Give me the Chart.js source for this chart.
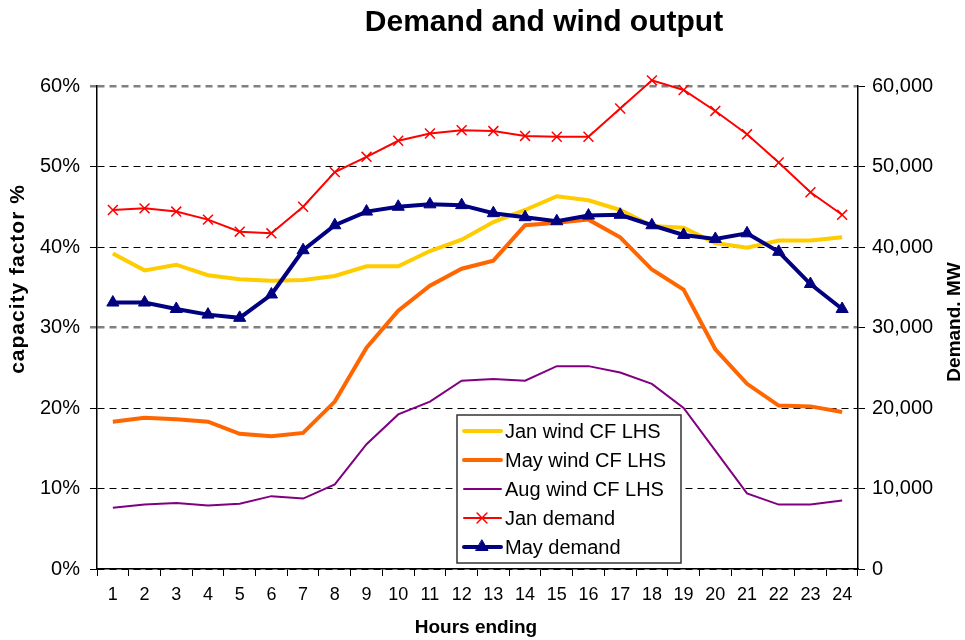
<!DOCTYPE html>
<html>
<head>
<meta charset="utf-8">
<title>Demand and wind output</title>
<script src="https://cdn.jsdelivr.net/npm/chart.js@4"></script>
<style>
  body { margin: 0; background: #fff; }
  #wrap { width: 965px; height: 640px; }
</style>
</head>
<body>
<div id="wrap"><canvas id="windChart" width="965" height="640"></canvas></div>
<script>
// hours ending 1..24
const hours = ["1","2","3","4","5","6","7","8","9","10","11","12","13","14","15","16","17","18","19","20","21","22","23","24"];

// wind capacity factor, % (left axis)
const janWind = [39.2, 37.1, 37.8, 36.5, 36.0, 35.8, 35.9, 36.4, 37.6, 37.6, 39.5, 40.9, 43.1, 44.6, 46.3, 45.8, 44.6, 42.6, 42.4, 40.5, 39.9, 40.8, 40.8, 41.2];
const mayWind = [18.3, 18.8, 18.6, 18.3, 16.8, 16.5, 16.9, 20.8, 27.5, 32.1, 35.2, 37.3, 38.3, 42.7, 43.0, 43.4, 41.2, 37.2, 34.7, 27.3, 23.0, 20.3, 20.2, 19.5];
const augWind = [7.6, 8.0, 8.2, 7.9, 8.1, 9.05, 8.75, 10.5, 15.5, 19.2, 20.8, 23.4, 23.6, 23.4, 25.2, 25.2, 24.4, 23.0, 20.0, 14.7, 9.4, 8.0, 8.0, 8.5];

// demand, MW (right axis)
const janDemand = [44600, 44800, 44400, 43400, 41900, 41700, 45000, 49300, 51200, 53200, 54100, 54500, 54400, 53800, 53700, 53700, 57200, 60700, 59500, 56900, 54000, 50500, 46800, 44000];
const mayDemand = [33100, 33100, 32300, 31600, 31200, 34100, 39600, 42700, 44400, 45000, 45300, 45200, 44200, 43700, 43200, 43900, 44000, 42700, 41500, 41000, 41700, 39400, 35400, 32300];

const seriesNames = ["Jan wind CF LHS", "May wind CF LHS", "Aug wind CF LHS", "Jan demand", "May demand"];

const FONT = "Arial, 'Liberation Sans', sans-serif";

// titles and an in-plot legend drawn straight onto the canvas
const decorations = {
  id: "decorations",
  afterDraw(chart) {
    const ctx = chart.ctx;
    ctx.save();
    ctx.fillStyle = "#000";
    ctx.textAlign = "center";
    ctx.textBaseline = "middle";

    ctx.font = "bold 30px " + FONT;
    ctx.fillText("Demand and wind output", 544, 23);

    ctx.font = "bold 19px " + FONT;
    ctx.fillText("Hours ending", 476, 628);

    ctx.save();
    ctx.translate(18, 279);
    ctx.rotate(-Math.PI / 2);
    ctx.font = "bold 21px " + FONT;
    ctx.letterSpacing = "1px";
    ctx.fillText("capacity factor %", 0, 0);
    ctx.restore();

    ctx.save();
    ctx.translate(955, 322);
    ctx.rotate(-Math.PI / 2);
    ctx.fillText("Demand. MW", 0, 0);
    ctx.restore();

    // legend box
    const bx = 457, by = 415, bw = 224, bh = 148;
    ctx.fillStyle = "#fff";
    ctx.fillRect(bx, by, bw, bh);
    ctx.strokeStyle = "#333";
    ctx.lineWidth = 1.5;
    ctx.strokeRect(bx, by, bw, bh);

    ctx.font = "20px " + FONT;
    ctx.textAlign = "left";
    chart.data.datasets.forEach((ds, i) => {
      const y = 431 + i * 29;
      ctx.strokeStyle = ds.borderColor;
      ctx.lineWidth = ds.borderWidth;
      ctx.lineCap = "round";
      ctx.beginPath();
      ctx.moveTo(464, y);
      ctx.lineTo(501, y);
      ctx.stroke();
      if (ds.pointRadius > 0 && Chart.helpers && Chart.helpers.drawPoint) {
        ctx.fillStyle = ds.pointBackgroundColor;
        ctx.strokeStyle = ds.pointBorderColor;
        ctx.lineWidth = ds.pointBorderWidth;
        Chart.helpers.drawPoint(ctx, { pointStyle: ds.pointStyle, radius: ds.pointRadius, rotation: 0, borderWidth: ds.pointBorderWidth }, 482, y);
      }
      ctx.fillStyle = "#000";
      ctx.fillText(seriesNames[i], 505, y + 1);
    });
    ctx.restore();
  }
};

const gridColor = (c) => (c.tick && (c.tick.value === 60 || c.tick.value === 30)) ? "#808080" : "#000";
const gridWidth = (c) => (c.tick && (c.tick.value === 60 || c.tick.value === 30)) ? 2.5 : 1;

new Chart(document.getElementById("windChart"), {
  type: "line",
  data: {
    labels: hours,
    datasets: [
      { label: seriesNames[0], data: janWind, yAxisID: "y", borderColor: "#FFCC00", borderWidth: 4, pointRadius: 0, order: 2 },
      { label: seriesNames[1], data: mayWind, yAxisID: "y", borderColor: "#FF6600", borderWidth: 4, pointRadius: 0, order: 3 },
      { label: seriesNames[2], data: augWind, yAxisID: "y", borderColor: "#800080", borderWidth: 2, pointRadius: 0, order: 4 },
      { label: seriesNames[3], data: janDemand, yAxisID: "y2", borderColor: "#FF0000", borderWidth: 2,
        pointStyle: "crossRot", pointRadius: 7, pointBorderColor: "#FF0000", pointBackgroundColor: "#FF0000", pointBorderWidth: 1.5,
        clip: false, order: 1 },
      { label: seriesNames[4], data: mayDemand, yAxisID: "y2", borderColor: "#000080", borderWidth: 4,
        pointStyle: "triangle", pointRadius: 7, pointBorderColor: "#000080", pointBackgroundColor: "#000080", pointBorderWidth: 1,
        order: 0 }
    ]
  },
  options: {
    responsive: false,
    animation: false,
    events: [],
    layout: { padding: { top: 86, left: 0, right: 0, bottom: 0 } },
    elements: { line: { tension: 0 } },
    plugins: {
      legend: { display: false },
      title: { display: false },
      tooltip: { enabled: false }
    },
    scales: {
      x: {
        type: "category",
        offset: true,
        grid: { offset: true, drawOnChartArea: false, color: "#000", tickLength: 7 },
        border: { color: "#000", width: 1.5 },
        ticks: { color: "#000", font: { family: FONT, size: 18 }, padding: 8, maxRotation: 0, autoSkip: false },
        afterFit(scale) { scale.height = 71; }
      },
      y: {
        position: "left",
        min: 0,
        max: 60,
        grid: { color: gridColor, lineWidth: gridWidth, tickLength: 7 },
        border: { color: "#000", width: 1.5, dash: [7, 5] },
        ticks: { stepSize: 10, color: "#000", font: { family: FONT, size: 20 }, padding: 10,
          callback: (v) => v + "%" },
        afterFit(scale) { scale.width = 97; }
      },
      y2: {
        position: "right",
        min: 0,
        max: 60000,
        grid: { drawOnChartArea: false, color: "#000", tickLength: 7 },
        border: { color: "#000", width: 1.5 },
        ticks: { stepSize: 10000, color: "#000", font: { family: FONT, size: 20 }, padding: 7,
          callback: (v) => v.toLocaleString("en-US") },
        afterFit(scale) { scale.width = 107; }
      }
    }
  },
  plugins: [decorations]
});
</script>
</body>
</html>
